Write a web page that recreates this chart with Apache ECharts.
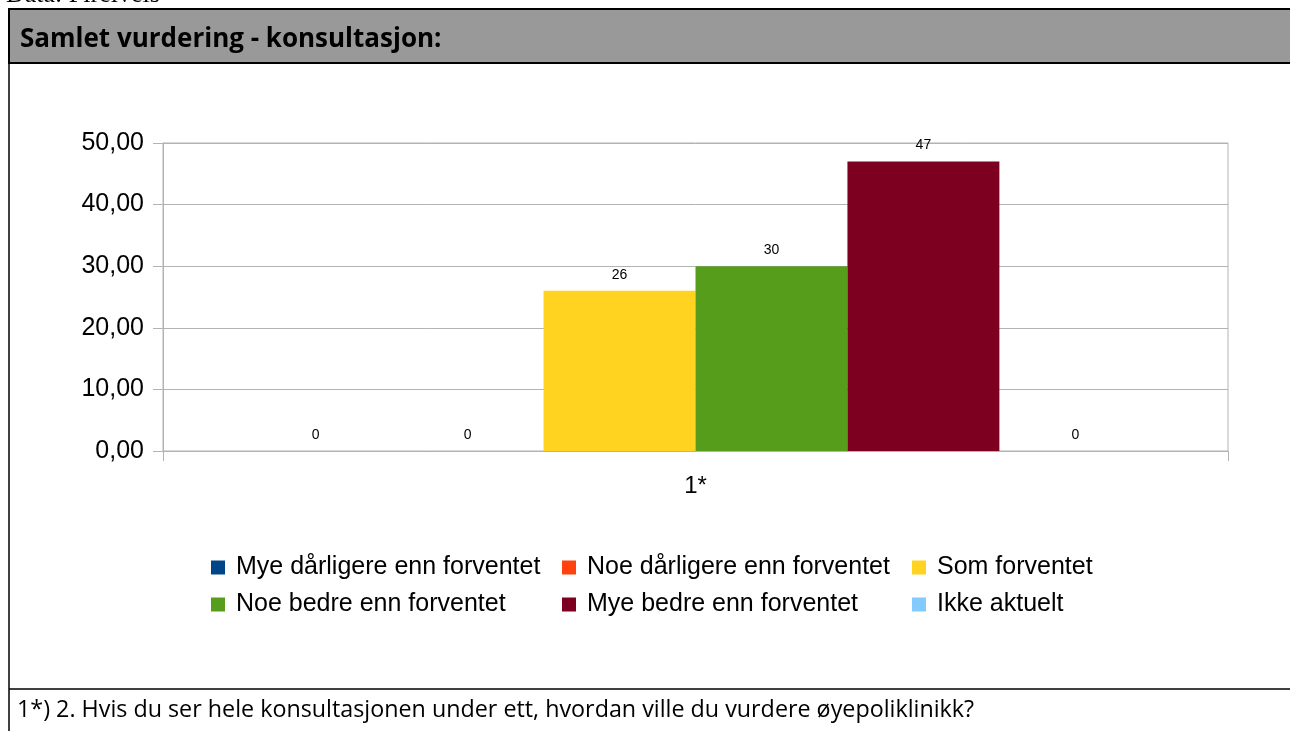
<!DOCTYPE html>
<html>
<head>
<meta charset="utf-8">
<title>Samlet vurdering - konsultasjon</title>
<script src="https://cdn.jsdelivr.net/npm/echarts@6/dist/echarts.min.js"></script>
<style>
    html, body { margin: 0; padding: 0; background: #fff; }
    #container { width: 1290px; height: 731px; }
</style>
</head>
<body>
<div id="container"></div>
<script>
    // data
    var categories = ['1*'];
    var seriesNames = [
        'Mye dårligere enn forventet',
        'Noe dårligere enn forventet',
        'Som forventet',
        'Noe bedre enn forventet',
        'Mye bedre enn forventet',
        'Ikke aktuelt'
    ];
    var seriesValues = [
        [0],
        [0],
        [26],
        [30],
        [47],
        [0]
    ];
    var seriesColors = ['#004586', '#ff420e', '#ffd320', '#579d1c', '#7e0021', '#83caff'];
    var yTicks = [0, 10, 20, 30, 40, 50];

    var titleText = 'Samlet vurdering - konsultasjon:';
    var footText = '1*) 2. Hvis du ser hele konsultasjonen under ett, hvordan ville du vurdere øyepoliklinikk?';

    var myChart = echarts.init(document.getElementById('container'));

    var series = seriesNames.map(function (name, i) {
        return {
            name: name,
            type: 'bar',
            barGap: 0,
            barCategoryGap: '14.4%',
            itemStyle: { color: seriesColors[i] },
            label: {
                show: true,
                position: 'top',
                distance: 9,
                color: '#000',
                fontFamily: 'Liberation Sans',
                fontSize: 14
            },
            data: seriesValues[i]
        };
    });

    // legend in three columns of two rows
    var legendCols = [[0, 3], [1, 4], [2, 5]];
    var legendLeft = [211, 562, 912];
    var legends = legendCols.map(function (col, i) {
        return {
            orient: 'vertical',
            left: legendLeft[i],
            top: 555,
            padding: 0,
            itemGap: 12,
            itemWidth: 14,
            itemHeight: 14,
            icon: 'rect',
            selectedMode: false,
            textStyle: {
                color: '#000',
                fontFamily: 'Liberation Sans',
                fontSize: 25,
                lineHeight: 24,
                padding: [0, 0, 0, 6]
            },
            data: col.map(function (k) { return seriesNames[k]; })
        };
    });

    var option = {
        animation: false,
        backgroundColor: '#fff',
        legend: legends,
        grid: {
            left: 163,
            top: 143,
            right: 62,
            bottom: 280,
            show: true,
            borderColor: '#b3b3b3',
            borderWidth: 1
        },
        xAxis: {
            type: 'category',
            data: categories,
            axisLine: { lineStyle: { color: '#b3b3b3' } },
            axisTick: { show: true, length: 10, lineStyle: { color: '#b3b3b3' } },
            axisLabel: {
                color: '#000',
                fontFamily: 'Liberation Sans',
                fontSize: 24,
                margin: 23
            }
        },
        yAxis: {
            type: 'value',
            min: yTicks[0],
            max: yTicks[yTicks.length - 1],
            interval: 10,
            axisLine: { show: true, lineStyle: { color: '#b3b3b3' } },
            axisTick: { show: true, length: 10, lineStyle: { color: '#b3b3b3' } },
            splitLine: { lineStyle: { color: '#b3b3b3' } },
            axisLabel: {
                color: '#000',
                fontFamily: 'Liberation Sans',
                fontSize: 25,
                margin: 19,
                formatter: function (v) { return v.toFixed(2).replace('.', ','); }
            }
        },
        graphic: [
            {
                type: 'text', left: 6, top: -18,
                style: { text: 'Data: Fireivels', font: '26px "Liberation Serif"', fill: '#000' }
            },
            {
                type: 'rect',
                shape: { x: 9, y: 9, width: 1290, height: 54 },
                style: { fill: '#999999', stroke: '#000', lineWidth: 2 }
            },
            {
                type: 'line',
                shape: { x1: 9, y1: 9, x2: 9, y2: 731 },
                style: { stroke: '#000', lineWidth: 1.5 }
            },
            {
                type: 'line',
                shape: { x1: 9, y1: 689, x2: 1290, y2: 689 },
                style: { stroke: '#000', lineWidth: 1.5 }
            },
            {
                type: 'text', left: 20, top: 27,
                style: { text: titleText, font: 'bold 26px "Open Sans"', fill: '#000' }
            },
            {
                type: 'text', left: 17, top: 699,
                style: { text: footText, font: '23.3px "Open Sans"', fill: '#000' }
            }
        ],
        series: series
    };

    myChart.setOption(option);
</script>
</body>
</html>
